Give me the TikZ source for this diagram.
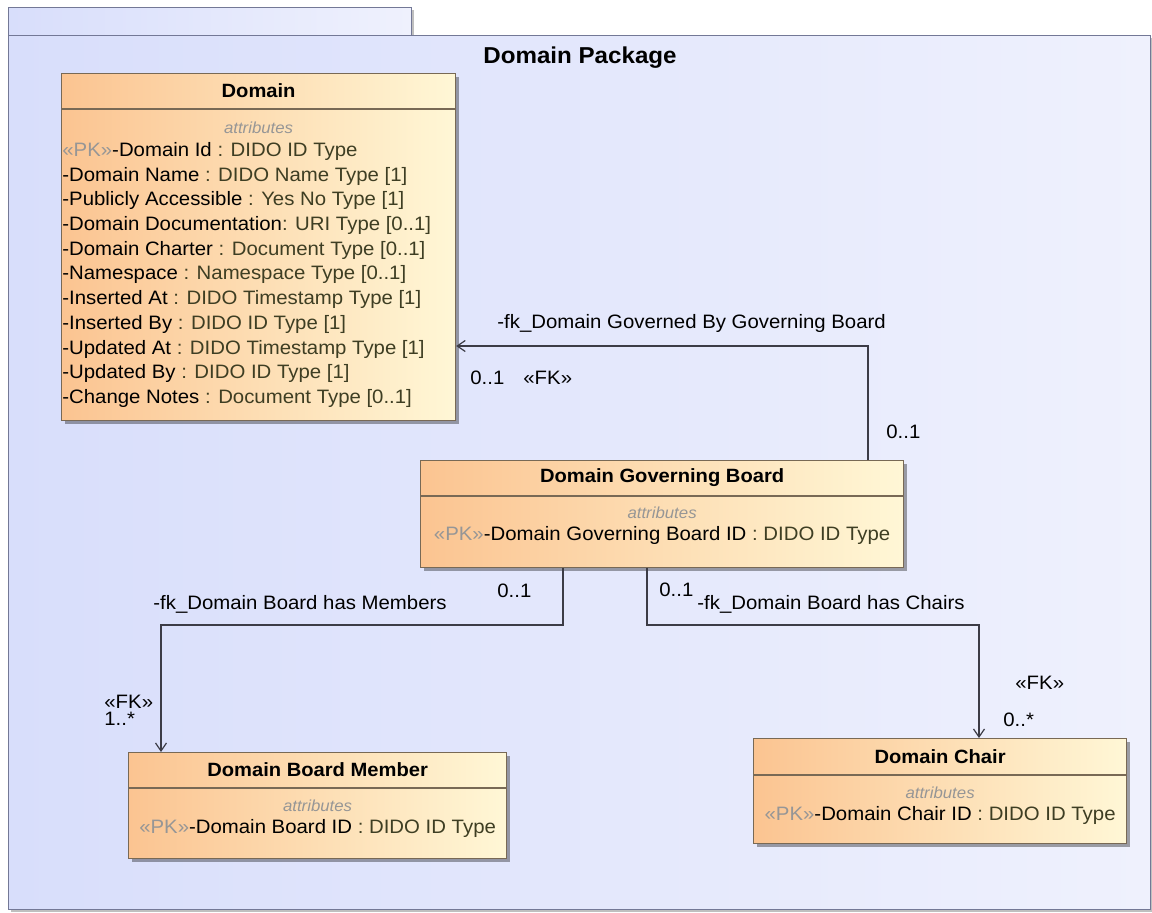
\documentclass[tikz,border=0pt]{standalone}
\usepackage{fontspec}
\setmainfont[FakeStretch=1.05]{Liberation Sans}
\usepackage{tikz}
\usetikzlibrary{arrows.meta,positioning,shadows}
\usepackage{xcolor}
\definecolor{pkgL}{RGB}{216,222,251}
\definecolor{pkgR}{RGB}{239,241,253}
\definecolor{clsL}{RGB}{251,196,145}
\definecolor{clsR}{RGB}{255,247,214}
\definecolor{clsline}{RGB}{120,105,85}
\definecolor{pkgline}{RGB}{115,120,150}
\definecolor{conn}{RGB}{60,60,70}
\definecolor{pkgray}{RGB}{150,150,150}
\definecolor{typ}{RGB}{62,62,35}
\newcommand{\pkmark}{\textcolor{pkgray}{«PK»}}
\newcommand{\tyname}[1]{\textcolor{typ}{#1}}

\begin{document}
\begin{tikzpicture}[x=0.5pt, y=-0.5pt,
  pkg/.style={draw=pkgline, line width=0.6pt, left color=pkgL, right color=pkgR,
              inner sep=0, anchor=north west,
              drop shadow={shadow xshift=1.2pt, shadow yshift=-1.2pt, fill=black, opacity=0.25}},
  cls/.style={draw=clsline, line width=0.6pt, left color=clsL, right color=clsR,
              inner sep=0, anchor=north west,
              drop shadow={shadow xshift=1.5pt, shadow yshift=-1.5pt, fill=black, opacity=0.35}},
  sep/.style={draw=clsline, line width=0.6pt},
  hdr/.style={font=\fontsize{9.6}{11}\selectfont\bfseries, inner sep=0},
  attl/.style={font=\fontsize{8}{9}\selectfont\itshape, text=pkgray, inner sep=0},
  attr/.style={font=\fontsize{9.7}{12.35}\selectfont, inner sep=0},
  lbl/.style={font=\fontsize{9.7}{11}\selectfont, inner sep=0, anchor=west},
  assoc/.style={draw=conn, line width=0.6pt, -{Straight Barb[length=4pt, width=5.5pt]}}]

\useasboundingbox (0,0) rectangle (1152,912);

% package frame
\node[pkg, minimum width=201.5pt, minimum height=14pt] (tab) at (8,7) {};
\node[pkg, minimum width=571pt, minimum height=437pt] (pkg) at (8,35) {};
\node[font=\fontsize{11.5}{13}\selectfont\bfseries, inner sep=0] (pkgT) at (580,58) {Domain Package};

% classes
\node[cls, minimum width=197pt, minimum height=173.5pt] (dom) at (61,73) {};
\node[cls, minimum width=241.5pt, minimum height=53.5pt] (dgb) at (420,460) {};
\node[cls, minimum width=189pt, minimum height=53pt] (dbm) at (128,752) {};
\node[cls, minimum width=186.5pt, minimum height=52.5pt] (chr) at (753,738) {};

\foreach \c/\h in {dom/18pt, dgb/18pt, dbm/18pt, chr/18.5pt}
  \draw[sep] ([yshift=-\h]\c.north west) -- ([yshift=-\h]\c.north east);

\node[hdr] (domT) at ([yshift=-9pt]dom.north) {Domain};
\node[hdr] (dgbT) at ([yshift=-9pt]dgb.north) {Domain Governing Board};
\node[hdr] (dbmT) at ([yshift=-9pt]dbm.north) {Domain Board Member};
\node[hdr] (chrT) at ([yshift=-9.2pt]chr.north) {Domain Chair};

\node[attl] (domA) at ([yshift=-27.5pt]dom.north) {attributes};
\node[attl] (dgbA) at ([yshift=-26.5pt]dgb.north) {attributes};
\node[attl] (dbmA) at ([yshift=-27pt]dbm.north) {attributes};
\node[attl] (chrA) at ([yshift=-27.5pt]chr.north) {attributes};

\node[attr, anchor=north west, align=left] (domB) at (62,142) {%
  \pkmark-Domain Id \tyname{: DIDO ID Type}\\
  -Domain Name \tyname{: DIDO Name Type [1]}\\
  -Publicly Accessible \tyname{: Yes No Type [1]}\\
  -Domain Documentation\tyname{: URI Type [0..1]}\\
  -Domain Charter \tyname{: Document Type [0..1]}\\
  -Namespace \tyname{: Namespace Type [0..1]}\\
  -Inserted At \tyname{: DIDO Timestamp Type [1]}\\
  -Inserted By \tyname{: DIDO ID Type [1]}\\
  -Updated At \tyname{: DIDO Timestamp Type [1]}\\
  -Updated By \tyname{: DIDO ID Type [1]}\\
  -Change Notes \tyname{: Document Type [0..1]}};
\node[attr] (dgbB) at ([yshift=-37.5pt]dgb.north) {\pkmark-Domain Governing Board ID \tyname{: DIDO ID Type}};
\node[attr] (dbmB) at ([yshift=-38pt]dbm.north) {\pkmark-Domain Board ID \tyname{: DIDO ID Type}};
\node[attr] (chrB) at ([yshift=-38.5pt]chr.north) {\pkmark-Domain Chair ID \tyname{: DIDO ID Type}};

% associations
\coordinate (govBend) at (868,346);
\coordinate (memA) at (563,625);
\coordinate (memB) at (161,625);
\coordinate (chA) at (647,625);
\coordinate (chB) at (979,625);

\draw[assoc] (dgb.north -| govBend) -- (govBend) -- (dom.east |- govBend);
\draw[assoc] (dgb.south -| memA) -- (memA) -- (memB) -- (dbm.north -| memB);
\draw[assoc] (dgb.south -| chA) -- (chA) -- (chB) -- (chr.north -| chB);

\node[lbl] (govL) at (497,323) {-fk\_Domain Governed By Governing Board};
\node[lbl] (govM1) at (470,378) {0..1};
\node[lbl] (govS) at (523,378) {«FK»};
\node[lbl] (govM2) at (886,432) {0..1};

\node[lbl] (memL) at (153,604) {-fk\_Domain Board has Members};
\node[lbl] (memM1) at (497,591) {0..1};
\node[lbl] (memS) at (104,702) {«FK»};
\node[lbl] (memM2) at (104,719) {1..*};

\node[lbl] (chM1) at (659,590) {0..1};
\node[lbl] (chL) at (697,604) {-fk\_Domain Board has Chairs};
\node[lbl] (chS) at (1015,683) {«FK»};
\node[lbl] (chM2) at (1003,720) {0..*};
\end{tikzpicture}
\end{document}
